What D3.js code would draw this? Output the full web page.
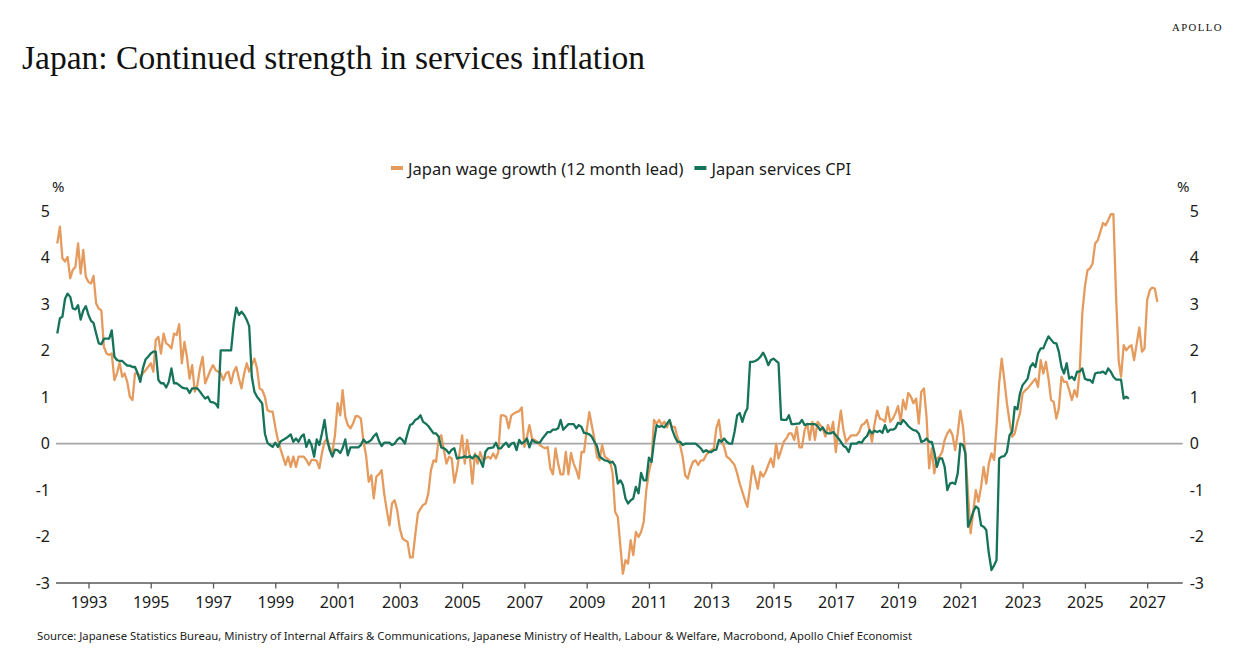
<!DOCTYPE html>
<html>
<head>
<meta charset="utf-8">
<script src="https://cdn.jsdelivr.net/npm/d3@7"></script>
<style>
  html, body { margin: 0; padding: 0; background: #ffffff; }
  svg { display: block; }
</style>
</head>
<body>
<svg id="chart" width="1242" height="660"></svg>
<script>
// ---------------- DATA (monthly, starting January 1992) ----------------
const seriesStart = [1992, 0]; // year, month index (0 = January)

const seriesNames = ["Japan wage growth (12 month lead)", "Japan services CPI"];

const wageGrowth = [
  4.31,4.67,3.99,3.92,4.02,3.56,3.74,3.81,4.31,3.66,
  4.17,3.59,3.48,3.45,3.61,3.02,2.91,2.87,2.08,1.94,
  1.91,1.94,1.37,1.51,1.74,1.44,1.51,1.33,1.01,0.94,
  1.51,1.51,1.44,1.51,1.58,1.65,1.73,1.55,2.23,2.30,
  1.94,2.37,2.16,2.12,2.05,2.37,2.34,2.57,1.73,2.19,
  1.87,1.40,1.69,1.12,1.26,1.62,1.87,1.30,1.44,1.58,
  1.69,1.58,1.55,1.51,1.37,1.51,1.55,1.30,1.55,1.65,
  1.40,1.19,1.51,1.73,1.55,1.69,1.83,1.62,1.19,1.15,
  1.01,0.72,0.69,0.69,0.36,0.08,-0.10,-0.28,-0.46,-0.28,
  -0.50,-0.28,-0.50,-0.28,-0.28,-0.28,-0.35,-0.46,-0.35,-0.35,
  -0.37,
  -0.53,-0.21,0.04,0.11,-0.10,-0.18,0.18,0.87,0.61,1.15,
  0.58,0.40,0.33,0.43,0.59,0.59,0.54,0.04,-0.25,-0.82,
  -0.68,-1.18,-0.71,-0.66,-0.57,-1.07,-1.43,-1.76,-1.29,-1.22,
  -1.43,-1.83,-2.04,-2.08,-2.11,-2.45,-2.45,-1.97,-1.50,-1.40,
  -1.32,-1.29,-1.07,-0.57,-0.36,-0.39,0.11,0.18,-0.14,-0.43,
  -0.28,-0.32,-0.84,-0.57,-0.21,0.18,-0.43,0.08,-0.28,-0.86,
  -0.21,-0.43,-0.18,-0.36,-0.32,-0.28,-0.32,-0.21,-0.32,-0.18,
  0.61,0.61,0.58,0.33,0.61,0.65,0.68,0.70,0.78,-0.07,
  0.15,0.40,0.11,0.08,0.04,-0.03,-0.07,-0.10,-0.07,-0.53,
  -0.66,-0.10,-0.43,-0.66,-0.66,-0.18,-0.66,-0.20,-0.43,-0.57,
  -0.75,-0.18,-0.18,0.29,0.68,0.40,0.11,-0.28,
  -0.36,-0.03,-0.28,-0.32,-0.37,-0.64,-1.47,-1.58,-2.22,-2.80,
  -2.51,-2.58,-2.08,-2.40,-1.90,-2.01,-1.90,-1.68,-1.00,-0.61,
  -0.36,0.51,0.43,0.51,0.40,0.47,0.35,0.49,0.35,0.36,
  0.15,-0.03,-0.28,-0.68,-0.75,-0.54,-0.39,-0.36,-0.46,-0.36,
  -0.36,-0.25,-0.18,-0.14,-0.10,0.33,0.51,0.08,-0.07,-0.28,
  -0.32,-0.39,-0.46,-0.64,-0.86,-1.04,-1.22,-1.36,-0.93,-0.48,
  -0.73,-0.97,-0.61,-0.71,-0.61,-0.46,-0.32,-0.50,0.00,-0.32,
  -0.14,0.04,0.11,0.22,0.22,0.08,0.36,-0.08,-0.08,0.29,
  0.43,0.08,0.47,0.08,0.47,0.40,0.33,0.15,0.40,0.23,
  0.47,-0.18,0.33,0.71,0.29,0.04,0.11,0.18,0.18,0.18,
  0.25,0.40,0.43,0.51,
  0.29,0.04,0.43,0.71,0.54,0.52,0.47,0.79,0.47,0.54,
  0.65,0.81,0.47,0.94,0.74,1.09,1.01,0.87,0.97,0.43,
  1.12,1.19,0.58,-0.53,-0.10,-0.64,-0.32,-0.28,-0.18,0.08,
  0.22,0.30,0.18,-0.14,0.22,0.71,0.36,-0.21,-1.07,-1.93,
  -1.47,-1.00,-1.25,-0.93,-0.50,-0.86,-0.43,-0.21,-0.35,0.36,
  1.30,1.83,1.37,0.87,0.47,0.15,0.22,0.47,0.65,1.08,
  1.15,1.19,1.26,1.33,1.40,1.22,1.80,1.51,1.76,1.40,
  0.94,0.90,0.54,0.76,1.44,1.33,1.33,1.15,0.94,1.15,
  1.01,1.58,2.80,3.38,3.74,3.77,3.88,4.31,4.38,4.56,
  4.75,4.70,4.81,4.94,4.94,3.20,1.80,1.44,2.12,2.01,
  2.08,2.12,1.80,2.16,2.50,1.98,2.05,3.09,3.30,3.36,
  3.34,3.05
];

const servicesCPI = [
  2.37,2.70,2.73,3.12,3.23,3.16,2.91,2.89,2.98,2.67,
  2.87,2.96,2.77,2.64,2.60,2.37,2.16,2.14,2.26,2.26,
  2.26,2.44,1.87,1.80,1.78,1.78,1.73,1.68,1.68,1.65,
  1.65,1.51,1.33,1.62,1.81,1.87,1.94,1.98,1.98,1.37,
  1.30,1.30,1.21,1.33,1.62,1.30,1.30,1.26,1.21,1.19,
  1.19,1.09,1.19,1.19,1.19,1.12,1.04,0.97,1.01,0.90,
  0.89,0.86,0.78,2.01,2.01,2.01,2.01,2.01,2.59,2.93,
  2.77,2.84,2.77,2.66,2.53,1.44,1.12,1.01,0.94,0.86,
  0.22,0.02,-0.03,-0.07,0.02,-0.07,0.04,0.08,0.11,0.15,
  0.20,0.04,0.11,0.04,0.15,0.20,-0.07,0.08,-0.03,-0.28,
  0.09,-0.03,0.22,0.51,0.08,
  -0.14,-0.28,-0.13,-0.14,-0.20,-0.10,0.09,-0.25,-0.08,-0.08,
  -0.08,-0.08,-0.03,0.09,0.02,0.04,0.08,0.16,0.22,0.06,-0.05,
  0.02,0.02,0.02,-0.03,0.00,0.08,0.13,0.08,0.00,0.22,
  0.40,0.43,0.51,0.54,0.61,0.47,0.43,0.38,0.30,0.22,
  0.22,0.15,-0.08,-0.10,-0.14,-0.21,-0.13,-0.10,-0.32,-0.30,
  -0.30,-0.27,-0.30,-0.27,-0.32,-0.25,-0.28,-0.36,-0.50,-0.18,
  -0.10,-0.09,-0.08,0.02,-0.10,-0.10,-0.03,0.02,-0.07,0.00,
  0.02,-0.14,0.08,0.00,0.04,0.11,-0.08,0.08,0.04,0.02,
  0.02,0.11,0.18,0.25,0.25,0.30,0.30,0.33,0.51,0.30,
  0.36,0.42,0.42,0.42,0.33,0.40,0.36,0.23,0.22,0.20,
  0.15,0.04,-0.05,
  -0.28,-0.32,-0.36,-0.37,-0.41,-0.39,-0.48,-0.86,-0.79,-0.89,
  -1.18,-1.29,-1.22,-1.18,-0.93,-1.07,-0.63,-0.79,-0.79,-0.30,
  -0.39,0.04,0.40,0.36,0.38,0.35,0.43,0.51,0.30,0.15,
  0.04,0.04,-0.03,0.00,0.00,0.00,0.00,0.00,-0.05,-0.10,
  -0.18,-0.14,-0.18,-0.18,-0.14,-0.13,0.08,0.04,0.11,0.04,
  0.00,0.00,0.25,0.61,0.66,0.47,0.66,0.76,1.76,1.76,
  1.78,1.81,1.87,1.96,1.85,1.69,1.80,1.83,1.78,1.74,
  0.52,0.51,0.51,0.61,0.42,0.42,0.43,0.43,0.51,0.40,
  0.42,0.42,0.42,0.42,0.38,0.29,0.35,0.25,0.22,0.22,
  0.25,0.18,0.11,0.04,-0.05,-0.08,-0.18,0.00,0.00,0.00,
  0.04,0.02,0.11,0.16,
  0.29,0.22,0.28,0.25,0.28,0.23,0.40,0.25,0.30,0.30,
  0.33,0.45,0.42,0.51,0.45,0.38,0.33,0.29,0.28,0.22,
  0.04,0.06,0.11,0.04,0.04,-0.18,-0.50,-0.32,-0.32,-0.50,
  -1.00,-0.86,-0.84,-0.87,-0.64,0.00,-0.03,-0.21,-1.79,-1.65,
  -1.47,-1.35,-1.40,-1.76,-1.79,-1.86,-2.36,-2.72,-2.62,-2.51,
  -0.32,-0.28,-0.27,-0.18,0.18,0.26,0.79,0.74,1.08,1.26,
  1.33,1.40,1.65,1.73,1.65,1.94,2.05,2.05,2.19,2.31,
  2.24,2.17,2.16,1.98,1.65,1.51,1.73,1.40,1.44,1.37,
  1.55,1.55,1.62,1.40,1.37,1.37,1.31,1.51,1.53,1.53,
  1.55,1.50,1.62,1.55,1.44,1.38,1.38,1.38,0.97,1.01,
  0.97
];

const yTickValues = [-3, -2, -1, 0, 1, 2, 3, 4, 5];
const xTickYears = [1993,1995,1997,1999,2001,2003,2005,2007,2009,2011,2013,2015,2017,2019,2021,2023,2025,2027];

const titleText = "Japan: Continued strength in services inflation";
const brandText = "APOLLO";
const unitText = "%";
const sourceText = "Source: Japanese Statistics Bureau, Ministry of Internal Affairs & Communications, Japanese Ministry of Health, Labour & Welfare, Macrobond, Apollo Chief Economist";

// ---------------- STYLE ----------------
const colors = { wage: "#E59B5E", cpi: "#16735A", zero: "#A6A6A6", axis: "#595959", text: "#1a1a1a" };
const sansFont = "'Noto Sans', 'Open Sans', sans-serif";
const serifFont = "'Liberation Serif', 'DejaVu Serif', serif";

// ---------------- LAYOUT ----------------
const svg = d3.select("#chart");
const plot = { left: 56, right: 1182.7, top: 211.4, bottom: 583 };

const x = d3.scaleTime()
  .domain([new Date(1991, 11, 17), new Date(2028, 1, 22)])
  .range([plot.left, plot.right]);

const y = d3.scaleLinear()
  .domain([-3, 5])
  .range([plot.bottom, plot.top]);

const toPoints = arr => arr.map((v, i) => ({ date: new Date(seriesStart[0], seriesStart[1] + i, 1), value: v }));
const wagePts = toPoints(wageGrowth);
const cpiPts = toPoints(servicesCPI);

// Title
svg.append("text")
  .attr("x", 22).attr("y", 69)
  .attr("font-family", serifFont)
  .attr("font-size", 34)
  .attr("fill", "#111")
  .attr("textLength", 623)
  .attr("lengthAdjust", "spacingAndGlyphs")
  .text(titleText);

// Brand
svg.append("text")
  .attr("x", 1172).attr("y", 31)
  .attr("font-family", serifFont)
  .attr("font-size", 11)
  .attr("letter-spacing", 1.5)
  .attr("fill", "#111")
  .attr("textLength", 51)
  .attr("lengthAdjust", "spacingAndGlyphs")
  .text(brandText);

// Legend
const legend = svg.append("g").attr("class", "legend");
const legendItems = [
  { name: seriesNames[0], color: colors.wage },
  { name: seriesNames[1], color: colors.cpi }
];
let lx = 391;
legendItems.forEach(item => {
  legend.append("line")
    .attr("x1", lx).attr("x2", lx + 12)
    .attr("y1", 168).attr("y2", 168)
    .attr("stroke", item.color).attr("stroke-width", 4);
  const t = legend.append("text")
    .attr("x", lx + 17).attr("y", 168)
    .attr("dominant-baseline", "central")
    .attr("font-family", sansFont)
    .attr("font-size", 16.5)
    .attr("fill", colors.text)
    .text(item.name);
  lx = lx + 17 + t.node().getComputedTextLength() + 11;
});

// Unit labels
svg.append("text").attr("x", 52).attr("y", 186)
  .attr("dominant-baseline", "central")
  .attr("font-family", sansFont).attr("font-size", 15).attr("fill", colors.text)
  .text(unitText);
svg.append("text").attr("x", 1177).attr("y", 186)
  .attr("dominant-baseline", "central")
  .attr("font-family", sansFont).attr("font-size", 15).attr("fill", colors.text)
  .text(unitText);

// Y axes (labels only)
const fmt = d => (d < 0 ? "-" + Math.abs(d) : String(d));
const yLeft = d3.axisLeft(y).tickValues(yTickValues).tickSize(0).tickPadding(6).tickFormat(fmt);
const yRight = d3.axisRight(y).tickValues(yTickValues).tickSize(0).tickPadding(7).tickFormat(fmt);

const gyl = svg.append("g").attr("transform", `translate(${plot.left},0)`).call(yLeft);
const gyr = svg.append("g").attr("transform", `translate(${plot.right},0)`).call(yRight);
[gyl, gyr].forEach(g => {
  g.select(".domain").remove();
  g.selectAll("text")
    .attr("font-family", sansFont)
    .attr("font-size", 16)
    .attr("fill", colors.text);
});

// Zero line
svg.append("line")
  .attr("x1", plot.left).attr("x2", plot.right)
  .attr("y1", y(0)).attr("y2", y(0))
  .attr("stroke", colors.zero).attr("stroke-width", 1.6);

// X axis
const xAxis = d3.axisBottom(x)
  .tickValues(xTickYears.map(yr => new Date(yr, 0, 1)))
  .tickSize(5.5)
  .tickPadding(8)
  .tickFormat(d3.timeFormat("%Y"));
const gx = svg.append("g").attr("transform", `translate(0,${plot.bottom})`).call(xAxis);
gx.select(".domain")
  .attr("d", `M${plot.left},0H${plot.right}`)
  .attr("stroke", colors.axis).attr("stroke-width", 1.6);
gx.selectAll(".tick line").attr("stroke", colors.axis).attr("stroke-width", 1.3);
gx.selectAll("text")
  .attr("font-family", sansFont)
  .attr("font-size", 16)
  .attr("fill", colors.text);

// Lines
const line = d3.line()
  .x(d => x(d.date))
  .y(d => y(d.value));

svg.append("path")
  .datum(wagePts)
  .attr("fill", "none")
  .attr("stroke", colors.wage)
  .attr("stroke-width", 2.3)
  .attr("stroke-linejoin", "round")
  .attr("d", line);

svg.append("path")
  .datum(cpiPts)
  .attr("fill", "none")
  .attr("stroke", colors.cpi)
  .attr("stroke-width", 2.3)
  .attr("stroke-linejoin", "round")
  .attr("d", line);

// Source
svg.append("text")
  .attr("x", 37).attr("y", 640)
  .attr("font-family", sansFont)
  .attr("font-size", 11.5)
  .attr("fill", "#222")
  .attr("textLength", 875)
  .attr("lengthAdjust", "spacingAndGlyphs")
  .text(sourceText);
</script>
</body>
</html>
